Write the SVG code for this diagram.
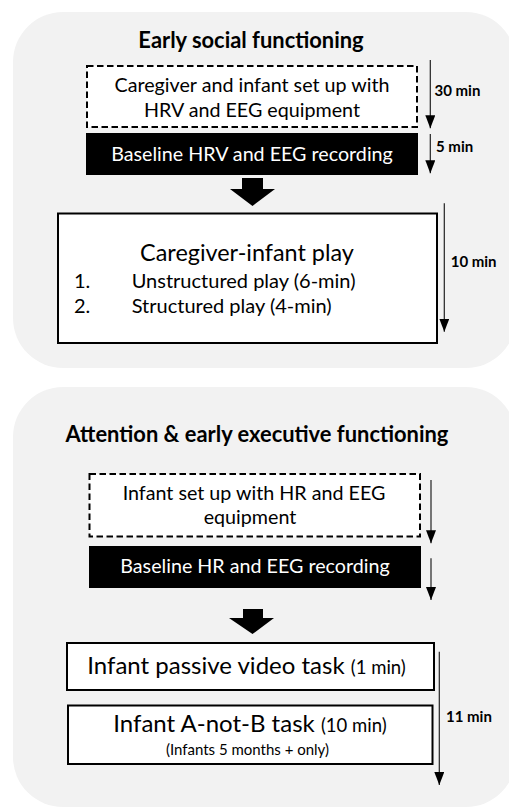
<svg xmlns="http://www.w3.org/2000/svg" width="509" height="811" viewBox="0 0 509 811">
<style>
  text { font-family: Lato, "Open Sans", "Liberation Sans", sans-serif; fill: #000; }
  .title { font-size: 21.9px; font-weight: bold; }
  .body { font-size: 19.7px; }
  .white { fill: #fff; }
  .mins { font-size: 15px; font-weight: bold; }
  .panel { fill: #f2f2f2; stroke: none; }
  .dashed { fill: #fff; stroke: #000; stroke-width: 2; stroke-dasharray: 6.5 3.5; }
  .black { fill: #000; stroke: none; }
  .box { fill: #fff; stroke: #000; stroke-width: 2; }
  .tline { stroke: #222; stroke-width: 1.2; fill: none; }
  .block { fill: #000; }
</style>
<defs>
  <marker id="tip" viewBox="0 0 13 10" refX="13" refY="5" markerWidth="13" markerHeight="10" markerUnits="userSpaceOnUse" orient="auto">
    <path d="M0,0 L13,5 L0,10 Z" fill="#000"/>
  </marker>
</defs>
<rect width="509" height="811" fill="#fff"/>

<g id="panel-social">
  <rect class="panel" x="13" y="12" width="503" height="356" rx="50" ry="50"/>
  <text class="title" x="251" y="48" text-anchor="middle">Early social functioning</text>
</g>
<g id="panel-attention">
  <rect class="panel" x="13" y="387" width="503" height="420" rx="50" ry="50"/>
  <text class="title" x="257" y="442" text-anchor="middle">Attention &amp; early executive functioning</text>
</g>

<g id="setup-1">
  <rect class="dashed" x="87" y="66" width="330" height="61"/>
  <text class="body" x="252" y="91.5" text-anchor="middle">Caregiver and infant set up with</text>
  <text class="body" x="252" y="116.5" text-anchor="middle">HRV and EEG equipment</text>
</g>
<g id="baseline-1">
  <rect class="black" x="86" y="133" width="332" height="42"/>
  <text class="body white" x="252" y="161" text-anchor="middle">Baseline HRV and EEG recording</text>
</g>
<g id="play">
  <rect class="box" x="58" y="213.5" width="379" height="129.5"/>
  <text x="247" y="261" text-anchor="middle" font-size="23.4">Caregiver-infant play</text>
  <text x="74" y="288.3" font-size="20">1.</text>
  <text x="131.7" y="288.3" font-size="20">Unstructured play (6-min)</text>
  <text x="74" y="313.3" font-size="20">2.</text>
  <text x="131.7" y="313.3" font-size="20">Structured play (4-min)</text>
</g>

<g id="setup-2">
  <rect class="dashed" x="89.5" y="474" width="330.5" height="62.5"/>
  <text class="body" x="254" y="500" text-anchor="middle">Infant set up with HR and EEG</text>
  <text class="body" x="250" y="524" text-anchor="middle">equipment</text>
</g>
<g id="baseline-2">
  <rect class="black" x="89" y="546" width="332" height="42"/>
  <text class="body white" x="255" y="573.3" text-anchor="middle">Baseline HR and EEG recording</text>
</g>
<g id="passive">
  <rect class="box" x="67" y="643" width="367" height="47"/>
  <text x="87.3" y="674" font-size="24">Infant passive video task <tspan font-size="18.5">(1 min)</tspan></text>
</g>
<g id="anotb">
  <rect class="box" x="68" y="705.5" width="364.5" height="58.5"/>
  <text x="113.3" y="731.7" font-size="24">Infant A-not-B task <tspan font-size="18.5">(10 min)</tspan></text>
  <text x="247.5" y="755" font-size="15" text-anchor="middle">(Infants 5 months + only)</text>
</g>

<g id="connectors">
  <polygon class="block" points="242,178 263,178 263,189 275,189 252.5,206 230,189 242,189"/>
  <polygon class="block" points="243,609 263,609 263,618 274,618 252.5,634 229,618 243,618"/>
  <line class="tline" x1="430.3" y1="60" x2="430.3" y2="128.3" marker-end="url(#tip)"/>
  <line class="tline" x1="430.3" y1="134" x2="430.3" y2="173.3" marker-end="url(#tip)"/>
  <line class="tline" x1="444.3" y1="203.3" x2="444.3" y2="331.7" marker-end="url(#tip)"/>
  <line class="tline" x1="431" y1="480" x2="431" y2="543.3" marker-end="url(#tip)"/>
  <line class="tline" x1="431" y1="558.3" x2="431" y2="600" marker-end="url(#tip)"/>
  <line class="tline" x1="439.3" y1="651.7" x2="439.3" y2="785" marker-end="url(#tip)"/>
  <text class="mins" x="434.5" y="95.5">30 min</text>
  <text class="mins" x="436" y="151.5">5 min</text>
  <text class="mins" x="450.7" y="266.5">10 min</text>
  <text class="mins" x="446" y="722">11 min</text>
</g>
</svg>
